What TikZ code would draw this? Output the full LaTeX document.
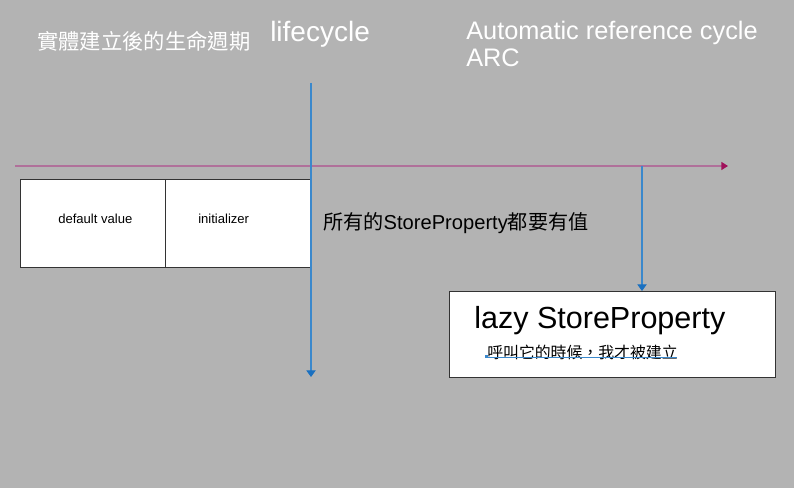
\documentclass[tikz,border=0pt]{standalone}
\usepackage{fontspec}
\setmainfont{Liberation Sans}
\newfontfamily\cjk{Noto Sans CJK TC}
\usetikzlibrary{arrows.meta}
\definecolor{bg}{HTML}{B3B3B3}
\definecolor{mag}{HTML}{B0709A}
\definecolor{magtip}{HTML}{A0105A}
\definecolor{blu}{HTML}{3A88CC}
\definecolor{blutip}{HTML}{1A70C0}
\tikzset{
  px/.style={x=0.75pt,y=-0.75pt},
  box/.style={draw=black!80,fill=white,line width=0.9pt,inner sep=0pt},
  wtext/.style={text=white,inner sep=0pt,anchor=west},
  btext/.style={text=black,inner sep=0pt,anchor=west},
  bluarrow/.style={draw=blu,line width=0.8pt,-{Triangle[width=7pt,length=5pt,color=blutip]}},
}
\begin{document}
\begin{tikzpicture}[px]
\fill[bg] (0,0) rectangle (794,488);
\useasboundingbox (0,0) rectangle (794,488);
% titles
\node[wtext,font=\cjk\fontsize{16pt}{18pt}\selectfont] (title) at (37,41) {實體建立後的生命週期};
\node[wtext,font=\fontsize{21pt}{24pt}\selectfont] (life) at (270,34) {lifecycle};
\node[wtext,font=\fontsize{19pt}{22pt}\selectfont] (arc1) at (466,33) {Automatic reference cycle};
\node[wtext,font=\fontsize{19pt}{22pt}\selectfont] (arc2) at (466,58) {ARC};
% timeline
\coordinate (tl0) at (15,166);
\coordinate (tl1) at (728,166);
\draw[mag,line width=1pt,-{Triangle[width=6pt,length=5pt,color=magtip]}] (tl0) -- (tl1);
% boxes
\node[box,minimum width=108.75pt,minimum height=66pt,anchor=north west] (dv) at (20,179) {};
\node[box,minimum width=108.75pt,minimum height=66pt,anchor=north west] (ini) at (165,179) {};
\node[btext,font=\fontsize{9.8pt}{11pt}\selectfont] (dvt) at (58,219) {default value};
\node[btext,font=\fontsize{9.8pt}{11pt}\selectfont] (init) at (198,219) {initializer};
% lifecycle line
\coordinate (lc0) at (311,83);
\coordinate (lc1) at (311,377);
\draw[bluarrow] (lc0) -- (lc1);
% note
\node[btext,font=\fontsize{15.1pt}{17pt}\selectfont] (note) at (323,223) {{\cjk 所有的}StoreProperty{\cjk 都要有值}};
% lazy box
\node[box,minimum width=244.5pt,minimum height=64.5pt,anchor=north west] (lazy) at (449,291) {};
\coordinate (arcd) at (642,166);
\draw[bluarrow] (arcd) -- (lazy.north -| arcd);
\node[btext,font=\fontsize{22.9pt}{26pt}\selectfont] (lazyt) at (474,321) {lazy StoreProperty};
\node[btext,font=\cjk\fontsize{11.9pt}{14pt}\selectfont] (lazysub) at (487,352) {呼叫它的時候，我才被建立};
\coordinate (ul0) at (486,357);
\coordinate (ul1) at (677,357);
\draw[blu,line width=0.5pt] (ul0) -- (ul1);
\fill[blu] (ul0) ++(-1.5,-1.5) rectangle ++(3,3);
\end{tikzpicture}
\end{document}
